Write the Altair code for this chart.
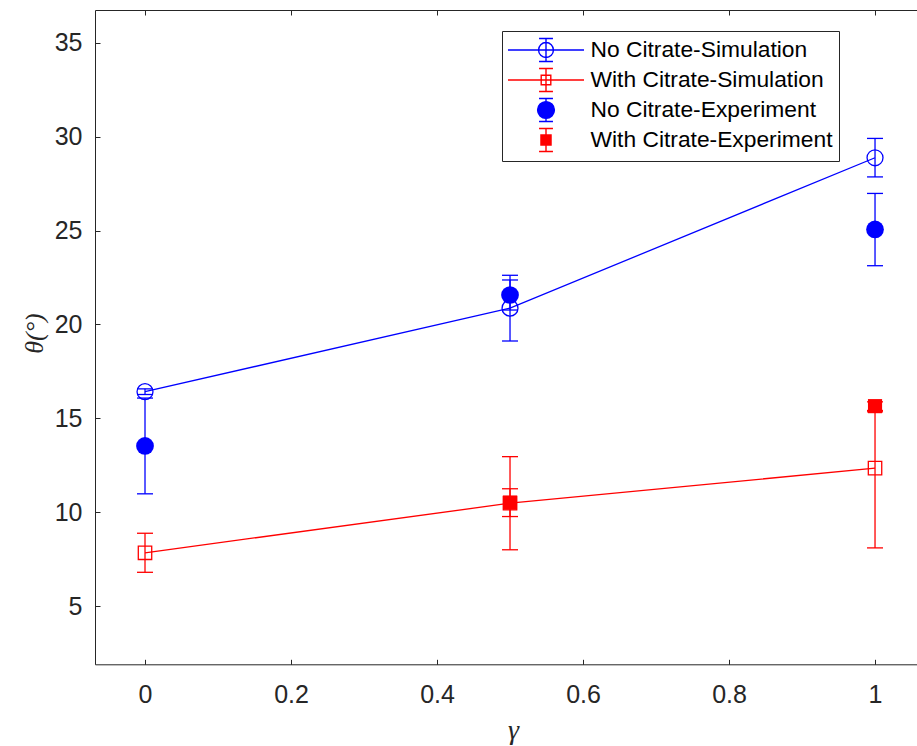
import altair as alt
import pandas as pd

# ---------------- data ----------------
gamma = [0, 0.5, 1]
no_sim = [16.42, 20.87, 28.88]
no_sim_lo = [16.27, 19.12, 27.86]
no_sim_hi = [16.57, 22.62, 29.91]

with_sim = [7.84, 10.48, 12.35]
with_sim_lo = [6.80, 8.00, 8.10]
with_sim_hi = [8.88, 12.96, 15.35]

no_exp = [13.53, 21.57, 25.06]
no_exp_lo = [10.98, 20.77, 23.13]
no_exp_hi = [16.08, 22.37, 26.98]

gamma_with_exp = [0.5, 1]
with_exp = [10.51, 15.65]
with_exp_lo = [9.77, 15.42]
with_exp_hi = [11.25, 15.88]

series_names = [
    "No Citrate-Simulation",
    "With Citrate-Simulation",
    "No Citrate-Experiment",
    "With Citrate-Experiment",
]
series_colors = ["#0000ff", "#ff0000", "#0000ff", "#ff0000"]
series_fills = ["transparent", "transparent", "#0000ff", "#ff0000"]

x_ticks = [0, 0.2, 0.4, 0.6, 0.8, 1]
y_ticks = [5, 10, 15, 20, 25, 30, 35]
x_domain = [-0.0685, 1.0575]
y_domain = [1.9, 36.75]

# ---------------- legend glyphs (unit = sqrt(size)/2 px) ----------------
def circle_path(r):
    k = 0.5523 * r
    return (f"M {r} 0 C {r} {k} {k} {r} 0 {r} C {-k} {r} {-r} {k} {-r} 0 "
            f"C {-r} {-k} {-k} {-r} 0 {-r} C {k} {-r} {r} {-k} {r} 0 Z")

def square_path(h):
    return f"M {-h} {-h} L {h} {-h} L {h} {h} L {-h} {h} Z"

ebar = "M 0 -0.96 L 0 0.96 M -0.58 -0.96 L 0.58 -0.96 M -0.58 0.96 L 0.58 0.96"
hline = "M -3.17 0 L 3.17 0"
legend_shapes = [
    hline + " " + ebar + " " + circle_path(0.62),
    hline + " " + ebar + " " + square_path(0.4),
    ebar + " " + circle_path(0.7),
    ebar + " " + square_path(0.42),
]

AX = "#262626"
xscale = alt.Scale(domain=x_domain, nice=False, zero=False)
yscale = alt.Scale(domain=y_domain, nice=False, zero=False)


def series_layers(g, v, lo, hi, color, shape, filled, size, line, axes=False):
    df = pd.DataFrame({"gamma": g, "value": v, "lo": lo, "hi": hi})
    base = alt.Chart(df)
    if axes:
        xax = alt.Axis(values=x_ticks, format="~g", offset=-5, tickSize=5,
                       labelPadding=18, domain=False, grid=False, labelFlush=False,
                       title="γ", titleFont="Liberation Serif", titleFontStyle="italic",
                       titleFontSize=28, titleFontWeight="normal", titleColor=AX,
                       titleX=418, titleY=79, titleBaseline="alphabetic")
        yax = alt.Axis(values=y_ticks, offset=-5, tickSize=5, labelPadding=13,
                       domain=False, grid=False, labelFlush=False,
                       title="θ(°)", titleFont="Liberation Serif", titleFontStyle="italic",
                       titleFontSize=26, titleFontWeight="normal", titleColor=AX,
                       titleX=-57.5, titleY=323, titleBaseline="alphabetic")
    else:
        xax = None
        yax = None
    x = alt.X("gamma:Q", scale=xscale, axis=xax)
    xn = alt.X("gamma:Q", scale=xscale, axis=None)
    yn = alt.Y("value:Q", scale=yscale, axis=None)
    layers = []
    if line:
        layers.append(base.mark_line(color=color, strokeWidth=1.3).encode(
            x=x, y=alt.Y("value:Q", scale=yscale, axis=yax)))
    layers.append(base.mark_rule(color=color, strokeWidth=1.3).encode(
        x=xn, y=alt.Y("lo:Q", scale=yscale, axis=None), y2="hi:Q"))
    for f in ["lo", "hi"]:
        layers.append(base.mark_tick(orient="horizontal", color=color, size=16,
                                     thickness=1.3, opacity=1).encode(
            x=xn, y=alt.Y(f + ":Q", scale=yscale, axis=None)))
    layers.append(base.mark_point(shape=shape, filled=filled, size=size, color=color,
                                  strokeWidth=1.3, opacity=1).encode(x=xn, y=yn))
    return layers


layers = []
layers += series_layers(gamma, no_sim, no_sim_lo, no_sim_hi, "#0000ff", "circle",
                        False, 254, True, axes=True)
layers += series_layers(gamma, with_sim, with_sim_lo, with_sim_hi, "#ff0000", "square",
                        False, 180, True)
layers += series_layers(gamma, no_exp, no_exp_lo, no_exp_hi, "#0000ff", "circle",
                        True, 314, False)
layers += series_layers(gamma_with_exp, with_exp, with_exp_lo, with_exp_hi, "#ff0000",
                        "square", True, 200, False)

# legend + top-axis layer (no visible marks: all rows filtered out)
leg = alt.Legend(orient="none", legendX=407, legendY=21, title=None,
                 symbolSize=576, symbolStrokeWidth=1.4, symbolOffset=25,
                 labelOffset=31.5, labelFont="Liberation Sans", labelFontSize=22.8,
                 labelColor="#000000", labelLimit=500, padding=6, rowPadding=0,
                 strokeColor=AX, fillColor="white")
leg_df = pd.DataFrame({"series": series_names, "gamma": [0.5] * 4, "value": [20] * 4})
legend_layer = alt.Chart(leg_df).transform_filter("false").mark_point(
    filled=False, opacity=1).encode(
    x=alt.X("gamma:Q", scale=xscale,
            axis=alt.Axis(orient="top", values=x_ticks, labels=False, offset=-5,
                          tickSize=5, domain=False, grid=False, title=None)),
    y=alt.Y("value:Q", scale=yscale, axis=None),
    color=alt.Color("series:N", scale=alt.Scale(domain=series_names, range=series_colors),
                    legend=leg),
    fill=alt.Fill("series:N", scale=alt.Scale(domain=series_names, range=series_fills),
                  legend=leg),
    shape=alt.Shape("series:N", scale=alt.Scale(domain=series_names, range=legend_shapes),
                    legend=leg),
)
layers.append(legend_layer)

chart = alt.layer(*layers).resolve_axis(x="independent", y="independent").properties(
    width=822, height=654.3, autosize="none",
    padding={"left": 95, "top": 10, "right": 0, "bottom": 81.7},
    background="white",
).configure_view(stroke=AX, strokeWidth=1).configure_axis(
    labelFont="Liberation Sans", labelFontSize=25, labelColor=AX,
    tickColor=AX, tickWidth=1,
)

chart.save("out.html", embed_options={"renderer": "svg", "actions": False})
